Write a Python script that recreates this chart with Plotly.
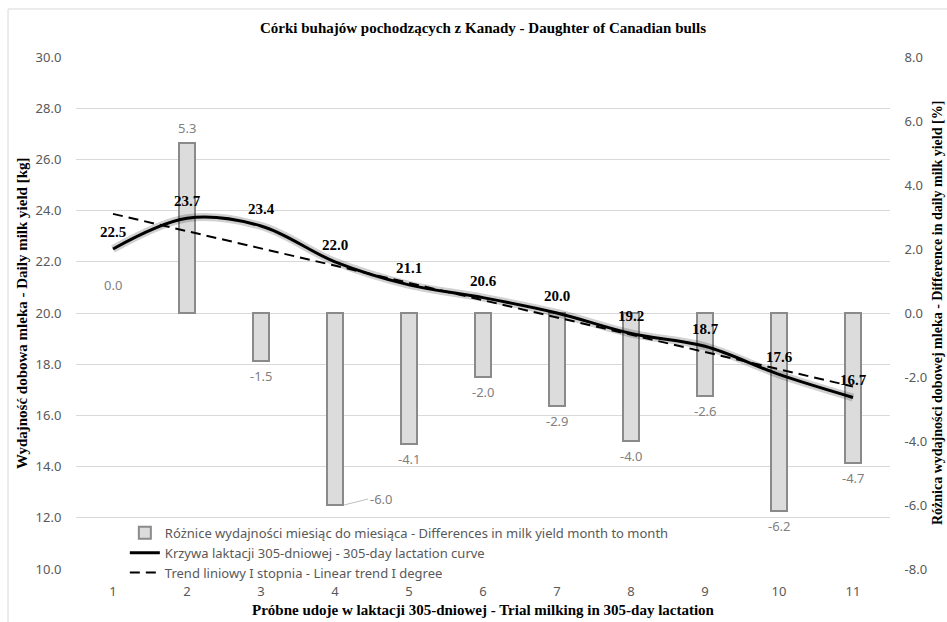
import numpy as np
import plotly.graph_objects as go

# Test-day number within the 305-day lactation
months = list(range(1, 12))
# Average daily milk yield [kg] per test day
milk_yield = [22.5, 23.7, 23.4, 22.0, 21.1, 20.6, 20.0, 19.2, 18.7, 17.6, 16.7]
# Month-to-month change in daily yield [%]
diff_pct = [0.0, 5.3, -1.5, -6.0, -4.1, -2.0, -2.9, -4.0, -2.6, -6.2, -4.7]

left_ticks = [10, 12, 14, 16, 18, 20, 22, 24, 26, 28, 30]
right_ticks = [-8, -6, -4, -2, 0, 2, 4, 6, 8]

title_text = "Córki buhajów pochodzących z Kanady - Daughter of Canadian bulls"
x_title = "Próbne udoje w laktacji 305-dniowej - Trial milking in 305-day lactation"
y_left_title = "Wydajność dobowa mleka - Daily milk yield [kg]"
y_right_title = "Różnica wydajności dobowej mleka - Difference in daily milk yield [%]"
bar_name = "Różnice wydajności miesiąc do miesiąca - Differences in milk yield month to month"
line_name = "Krzywa laktacji 305-dniowej - 305-day lactation curve"
trend_name = "Trend liniowy I stopnia - Linear trend I degree"

# Least-squares linear trend of the lactation curve
slope, intercept = np.polyfit(months, milk_yield, 1)
trend = [slope * m + intercept for m in months]

SERIF = "Liberation Serif"
SANS = "Noto Sans"
GREY_TXT = "#595959"
GRID = "#d9d9d9"

fig = go.Figure()

# bars are passed last-to-first so the legend swatch takes an outlined bar;
# a bar of zero height gets no outline
bar_x = months[::-1]
bar_y = diff_pct[::-1]
bar_outline = [0 if d == 0 else 2 for d in bar_y]
fig.add_trace(go.Bar(
    x=bar_x, y=bar_y, yaxis="y", width=0.21,
    marker=dict(color="#dcdcdc", line=dict(color="#8a8a8a", width=bar_outline)),
    name=bar_name,
))

# soft shadow beneath the lactation curve
fig.add_trace(go.Scatter(
    x=months, y=milk_yield, yaxis="y2", mode="lines",
    line=dict(color="rgba(0,0,0,0.18)", width=8, shape="spline", smoothing=1),
    showlegend=False, hoverinfo="skip",
))
fig.add_trace(go.Scatter(
    x=months, y=milk_yield, yaxis="y2", mode="lines",
    line=dict(color="black", width=3, shape="spline", smoothing=1),
    name=line_name,
))
fig.add_trace(go.Scatter(
    x=months, y=trend, yaxis="y2", mode="lines",
    line=dict(color="black", width=2, dash="10px,6px"),
    name=trend_name,
))

annotations = []
# value labels of the lactation curve
for m, v in zip(months, milk_yield):
    annotations.append(dict(
        x=m, y=v, xref="x", yref="y2", text=f"<b>{v:.1f}</b>", showarrow=False,
        yshift=17, font=dict(family=SERIF, size=15, color="black"),
    ))
# value labels of the bars
for m, d in zip(months, diff_pct):
    if m == 4:
        annotations.append(dict(
            x=m, y=d, xref="x", yref="y", text=f"{d:.1f}", showarrow=True,
            arrowhead=0, arrowwidth=1, arrowcolor="#bfbfbf", ax=24, ay=-6,
            xshift=9, xanchor="left", font=dict(family=SANS, size=13, color="#7f7f7f"),
        ))
        continue
    shift = 28 if d == 0 else (15 if d > 0 else -15)
    annotations.append(dict(
        x=m, y=d, xref="x", yref="y", text=f"{d:.1f}", showarrow=False,
        yshift=shift, font=dict(family=SANS, size=13, color="#7f7f7f"),
    ))

# titles
annotations.append(dict(
    x=0.5, y=1.0566, xref="paper", yref="paper", text=f"<b>{title_text}</b>",
    showarrow=False, yanchor="middle", font=dict(family=SERIF, size=15, color="black"),
))
annotations.append(dict(
    x=0.5, y=-0.080, xref="paper", yref="paper", text=f"<b>{x_title}</b>",
    showarrow=False, yanchor="middle", font=dict(family=SERIF, size=15, color="black"),
))
annotations.append(dict(
    x=-0.0663, y=0.5, xref="paper", yref="paper", text=f"<b>{y_left_title}</b>",
    showarrow=False, textangle=-90, xanchor="center", yanchor="middle",
    font=dict(family=SERIF, size=15, color="black"),
))
annotations.append(dict(
    x=1.0578, y=0.5, xref="paper", yref="paper", text=f"<b>{y_right_title}</b>",
    showarrow=False, textangle=-90, xanchor="center", yanchor="middle",
    font=dict(family=SERIF, size=14, color="black"),
))

fig.update_layout(
    width=947, height=622,
    margin=dict(l=76, r=57, t=57, b=53),
    paper_bgcolor="white", plot_bgcolor="white",
    showlegend=True,
    legend=dict(
        x=0.060, y=0.10, xanchor="left", yanchor="top",
        bgcolor="rgba(0,0,0,0)", font=dict(family=SANS, size=13, color=GREY_TXT),
        tracegroupgap=0, itemwidth=30,
    ),
    bargap=0,
    xaxis=dict(
        range=[0.5, 11.5], tickvals=months, ticktext=[str(m) for m in months],
        showgrid=False, zeroline=False, showline=False,
        ticks="outside", ticklen=10, tickcolor="rgba(0,0,0,0)",
        tickfont=dict(family=SANS, size=13, color=GREY_TXT),
    ),
    yaxis=dict(
        side="right", range=[-8, 8], tickvals=right_ticks,
        ticktext=[f"{t:.1f}" for t in right_ticks],
        showgrid=False, zeroline=False, showline=False,
        ticks="outside", ticklen=11, tickcolor="rgba(0,0,0,0)",
        tickfont=dict(family=SANS, size=13, color=GREY_TXT),
    ),
    yaxis2=dict(
        side="left", overlaying="y", range=[10, 30], tickvals=left_ticks,
        ticktext=[f"{t:.1f}" for t in left_ticks],
        showgrid=True, gridcolor=GRID, gridwidth=1, zeroline=False, showline=False,
        ticks="outside", ticklen=11, tickcolor="rgba(0,0,0,0)",
        tickfont=dict(family=SANS, size=13, color=GREY_TXT),
    ),
    annotations=annotations,
    shapes=[dict(
        type="rect", xref="paper", yref="paper",
        x0=-0.0835, x1=1.08, y0=-0.12, y1=1.0938,
        line=dict(color="#d9d9d9", width=1), fillcolor="rgba(0,0,0,0)", layer="below",
    )],
)

fig.write_html("out.html")
